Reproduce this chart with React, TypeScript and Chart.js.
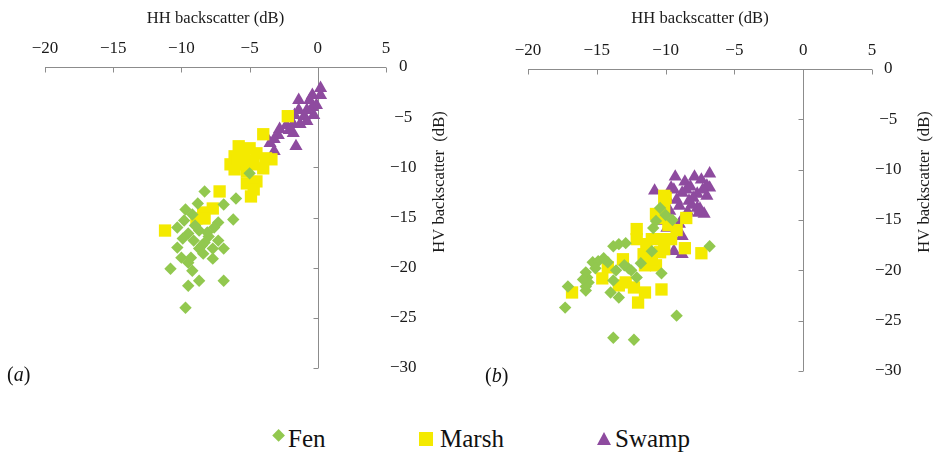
import React, { useEffect, useRef } from 'react';
import { Chart, registerables } from 'chart.js';

Chart.register(...registerables);

// ---------- data ----------
const xTicks = [-20, -15, -10, -5, 0, 5];
const yTicks = [0, -5, -10, -15, -20, -25, -30];
const xTitle = 'HH backscatter (dB)';
const yTitle = 'HV backscatter  (dB)';
const seriesNames = ['Fen', 'Marsh', 'Swamp'];

// panel (a)
const fenA: number[][] = [
  [-8.3, -12.4], [-5.0, -10.6], [-6.0, -13.1], [-6.9, -13.7], [-8.8, -13.6], [-9.7, -14.2],
  [-9.2, -14.7], [-6.2, -15.2], [-9.8, -15.3], [-7.3, -15.5], [-10.3, -16.0], [-8.7, -16.3],
  [-9.5, -16.6], [-8.1, -16.5], [-9.9, -17.1], [-9.1, -17.3], [-8.3, -17.5], [-7.3, -17.3],
  [-8.5, -17.8], [-6.9, -18.1], [-7.7, -18.1], [-8.7, -18.1], [-10.3, -18.0], [-10.0, -19.0],
  [-7.7, -19.1], [-9.5, -19.5], [-10.8, -20.1], [-9.2, -20.3], [-8.7, -21.3], [-6.9, -21.3],
  [-9.5, -21.8], [-9.7, -24.0], [-8.0, -16.9], [-7.6, -16.0], [-9.0, -15.8], [-8.4, -18.6],
  [-9.3, -19.0],
];
const marshA: number[][] = [
  [-4.0, -6.7], [-5.8, -7.9], [-5.0, -8.1], [-4.5, -8.6], [-6.1, -8.9], [-5.4, -8.9],
  [-3.8, -9.1], [-3.4, -9.2], [-6.4, -9.7], [-5.6, -9.7], [-4.7, -9.7], [-4.0, -10.1],
  [-6.1, -10.2], [-5.2, -10.4], [-4.5, -11.4], [-5.2, -11.6], [-4.7, -12.2], [-7.2, -12.4],
  [-4.9, -12.9], [-7.7, -14.1], [-8.4, -14.5], [-8.9, -15.1], [-8.3, -15.1], [-11.2, -16.3],
  [-5.0, -9.3], [-5.9, -9.2], [-2.2, -4.9],
];
const swampA: number[][] = [
  [0.2, -2.1], [-0.4, -2.8], [-0.6, -3.3], [-1.4, -3.3], [0.2, -2.8], [-0.1, -3.8],
  [-0.4, -4.0], [-0.8, -4.3], [-0.3, -4.8], [-1.4, -4.3], [-1.7, -4.8], [-1.0, -4.9],
  [-0.8, -5.4], [-2.1, -5.1], [-2.3, -5.8], [-1.8, -5.7], [-1.3, -5.7], [-2.1, -6.3],
  [-2.8, -6.2], [-1.8, -6.6], [-2.9, -6.8], [-3.8, -6.9], [-3.2, -7.2], [-3.5, -7.6],
  [-1.6, -7.9], [-3.2, -8.4],
];

// panel (b)
const fenB: number[][] = [
  [-17.3, -23.7], [-17.1, -21.6], [-15.8, -22.0], [-15.7, -20.7], [-15.3, -19.2], [-15.8, -20.2],
  [-14.2, -19.2], [-13.8, -17.6], [-12.9, -17.3], [-14.0, -22.2], [-13.4, -22.7], [-13.8, -21.0],
  [-12.7, -19.8], [-12.1, -20.7], [-10.3, -20.3], [-9.2, -24.5], [-13.8, -26.7], [-12.3, -26.9],
  [-6.8, -17.6], [-10.9, -15.8], [-14.9, -19.1], [-15.6, -21.2], [-15.8, -21.6], [-15.1, -19.8],
  [-14.5, -18.8], [-12.5, -20.0], [-13.4, -17.4], [-11.0, -18.1], [-13.6, -20.0], [-10.7, -15.1],
  [-16.0, -20.9], [-13.0, -19.5], [-11.8, -19.3], [-10.0, -14.5], [-9.5, -15.0], [-10.4, -13.8],
];
const marshB: number[][] = [
  [-12.1, -15.9], [-12.1, -16.9], [-10.7, -14.4], [-11.4, -17.4], [-10.3, -16.9], [-9.6, -16.9],
  [-11.6, -18.4], [-11.5, -19.5], [-10.7, -19.5], [-11.0, -18.9], [-7.4, -18.3], [-13.1, -18.9],
  [-14.2, -19.7], [-10.1, -17.9], [-8.6, -17.8], [-14.6, -20.8], [-16.8, -22.2], [-13.4, -21.5],
  [-12.9, -21.2], [-12.3, -21.7], [-11.5, -22.2], [-12.0, -23.2], [-10.3, -21.9], [-10.5, -14.8],
  [-10.1, -13.8], [-8.5, -14.8], [-11.0, -16.9], [-10.0, -12.8], [-9.8, -15.5], [-10.4, -18.2],
  [-9.2, -16.0], [-10.1, -12.6],
];
const swampB: number[][] = [
  [-6.8, -10.4], [-7.9, -10.7], [-9.3, -10.7], [-7.4, -11.0], [-8.6, -11.2], [-10.8, -12.1],
  [-9.6, -11.8], [-6.8, -11.8], [-8.8, -12.3], [-7.7, -12.4], [-7.0, -12.6], [-9.9, -12.8],
  [-8.3, -13.1], [-9.0, -13.6], [-7.7, -13.8], [-9.7, -14.1], [-7.2, -14.4], [-8.8, -14.9],
  [-10.3, -15.1], [-9.4, -12.0], [-9.9, -15.8], [-9.0, -15.4], [-8.8, -16.6], [-9.4, -18.1],
  [-8.8, -18.4], [-7.6, -14.3], [-8.1, -13.5], [-7.0, -11.6], [-7.5, -13.9], [-8.5, -12.0],
  [-8.0, -12.8], [-9.2, -13.0], [-8.4, -14.2], [-7.3, -12.0], [-8.2, -11.7],
];

// ---------- styles ----------
const COLORS = { fen: '#92C84F', marsh: '#F4EA00', swamp: '#8E4B9F' };
const SERIF = '"Liberation Serif", "Times New Roman", serif';
const TEXT = '#1a1a1a';
const AXIS = '#8c8c8c';
const TITLE_SIZE = 16.6;

const fmt = (v: number | string) => {
  const n = Number(v);
  return n < 0 ? '\u2212' + Math.abs(n) : String(n);
};

const crossAxes = {
  id: 'crossAxes',
  beforeDatasetsDraw(chart: any, _args: any, opts: any) {
    const { ctx, scales } = chart;
    const x = scales.x;
    const y = scales.y;
    ctx.save();
    ctx.strokeStyle = AXIS;
    ctx.lineWidth = 1;
    const y0 = Math.round(y.getPixelForValue(0)) + 0.5;
    const x0 = Math.round(x.getPixelForValue(0)) + 0.5;
    ctx.beginPath();
    ctx.moveTo(x.getPixelForValue(xTicks[0]), y0);
    ctx.lineTo(x.getPixelForValue(xTicks[xTicks.length - 1]), y0);
    for (const v of xTicks) {
      const px = Math.round(x.getPixelForValue(v)) + 0.5;
      ctx.moveTo(px, y0);
      ctx.lineTo(px, y0 + 5);
    }
    ctx.moveTo(x0, y.getPixelForValue(yTicks[0]));
    ctx.lineTo(x0, y.getPixelForValue(yTicks[yTicks.length - 1]));
    for (const v of yTicks) {
      const py = Math.round(y.getPixelForValue(v)) + 0.5;
      ctx.moveTo(x0 - 5, py);
      ctx.lineTo(x0, py);
    }
    ctx.stroke();
    // vertical y-axis title
    ctx.translate(opts.titleX, opts.titleY);
    ctx.rotate(-Math.PI / 2);
    ctx.fillStyle = TEXT;
    ctx.font = `${TITLE_SIZE}px ${SERIF}`;
    ctx.textAlign = 'center';
    ctx.textBaseline = 'middle';
    ctx.fillText(yTitle, 0, 0);
    ctx.restore();
  },
};

type PanelProps = {
  fen: number[][];
  marsh: number[][];
  swamp: number[][];
  left: number;
  pad: { left: number; right: number; bottom: number };
  titlePadBottom: number;
  tickPadX: number;
  tickPadY: number;
  titleX: number;
};

const W = 467;
const H = 400;

function Panel(p: PanelProps) {
  const ref = useRef<HTMLCanvasElement>(null);
  useEffect(() => {
    if (!ref.current) return;
    const toPts = (a: number[][]) => a.map(([x, y]) => ({ x, y }));
    const tickFont = { family: SERIF, size: 17 };
    const chart = new Chart(ref.current, {
      type: 'scatter',
      data: {
        datasets: [
          {
            label: seriesNames[0], data: toPts(p.fen), pointStyle: 'rectRot', pointRadius: 6.2,
            pointHoverRadius: 6.2, backgroundColor: COLORS.fen, borderColor: COLORS.fen, borderWidth: 0,
          },
          {
            label: seriesNames[1], data: toPts(p.marsh), pointStyle: 'rect', pointRadius: 8.7,
            pointHoverRadius: 8.7, backgroundColor: COLORS.marsh, borderColor: COLORS.marsh, borderWidth: 0,
          },
          {
            label: seriesNames[2], data: toPts(p.swamp), pointStyle: 'triangle', pointRadius: 7.6,
            pointHoverRadius: 7.6, backgroundColor: COLORS.swamp, borderColor: COLORS.swamp, borderWidth: 0,
          },
        ],
      } as any,
      options: {
        responsive: false,
        animation: false,
        events: [],
        layout: { padding: { left: p.pad.left, right: p.pad.right, top: 0, bottom: p.pad.bottom } },
        plugins: {
          legend: { display: false },
          tooltip: { enabled: false },
          crossAxes: { titleX: p.titleX, titleY: 182 },
        } as any,
        scales: {
          x: {
            type: 'linear',
            position: 'top',
            min: xTicks[0],
            max: xTicks[xTicks.length - 1],
            afterBuildTicks: (s: any) => { s.ticks = xTicks.map((v) => ({ value: v })); },
            grid: { display: false, drawTicks: false },
            border: { display: false },
            ticks: { font: tickFont, color: TEXT, padding: p.tickPadX, maxRotation: 0, callback: fmt },
            title: {
              display: true, text: xTitle, color: TEXT, font: { family: SERIF, size: TITLE_SIZE },
              padding: { top: 9, bottom: p.titlePadBottom },
            },
          },
          y: {
            type: 'linear',
            position: 'right',
            min: yTicks[yTicks.length - 1],
            max: yTicks[0],
            afterBuildTicks: (s: any) => { s.ticks = yTicks.map((v) => ({ value: v })); },
            grid: { display: false, drawTicks: false },
            border: { display: false },
            ticks: { font: tickFont, color: TEXT, padding: p.tickPadY, crossAlign: 'center', callback: fmt },
          },
        } as any,
      },
      plugins: [crossAxes],
    });
    return () => chart.destroy();
  }, []);
  return (
    <canvas
      ref={ref}
      width={W}
      height={H}
      style={{ position: 'absolute', left: p.left, top: 0, width: W, height: H }}
    />
  );
}

const legendText: React.CSSProperties = {
  position: 'absolute', top: 426, fontFamily: SERIF, fontSize: 25, lineHeight: '25px', color: '#111',
  whiteSpace: 'nowrap',
};
const panelLabel: React.CSSProperties = {
  position: 'absolute', fontFamily: SERIF, fontSize: 20, lineHeight: '20px', color: '#111',
};

export default function App() {
  return (
    <div style={{ position: 'absolute', left: 0, top: 0, width: 934, height: 455, background: '#fff', overflow: 'hidden' }}>
      <Panel
        fen={fenA} marsh={marshA} swamp={swampA} left={0}
        pad={{ left: 45, right: 46.4, bottom: 32 }} titlePadBottom={1.7} tickPadX={8} tickPadY={4} titleX={440}
      />
      <Panel
        fen={fenB} marsh={marshB} swamp={swampB} left={467}
        pad={{ left: 61, right: 29.4, bottom: 29 }} titlePadBottom={3.7} tickPadX={8} tickPadY={3} titleX={458}
      />
      <div style={{ ...panelLabel, left: 7, top: 364 }}>(<i>a</i>)</div>
      <div style={{ ...panelLabel, left: 485, top: 365 }}>(<i>b</i>)</div>

      <div style={{ position: 'absolute', left: 273.7, top: 431.4, width: 9.2, height: 9.2, background: COLORS.fen, transform: 'rotate(45deg)' }} />
      <div style={{ ...legendText, left: 288 }}>{seriesNames[0]}</div>
      <div style={{ position: 'absolute', left: 419, top: 431.5, width: 14, height: 14, background: COLORS.marsh }} />
      <div style={{ ...legendText, left: 440 }}>{seriesNames[1]}</div>
      <div style={{ position: 'absolute', left: 597, top: 432, width: 0, height: 0, borderLeft: '7.5px solid transparent', borderRight: '7.5px solid transparent', borderBottom: `13px solid ${COLORS.swamp}` }} />
      <div style={{ ...legendText, left: 615 }}>{seriesNames[2]}</div>
    </div>
  );
}
